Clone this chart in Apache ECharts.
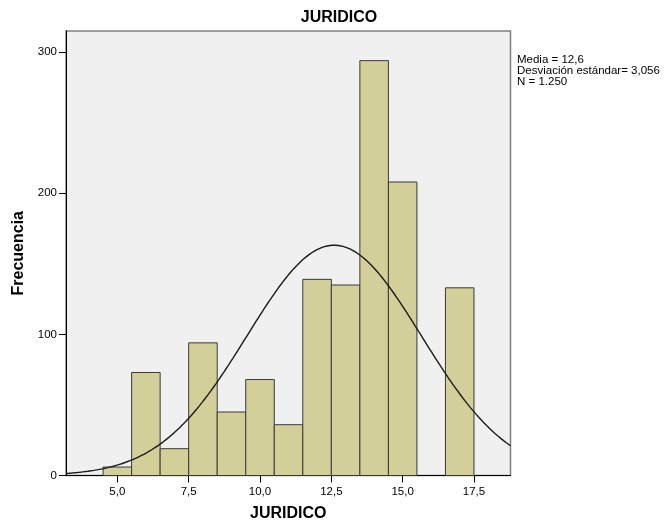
<!DOCTYPE html>
<html>
<head>
<meta charset="utf-8">
<style>html,body{margin:0;padding:0;background:#fff;}#c{width:668px;height:527px;}</style>
<script src="https://cdn.jsdelivr.net/npm/echarts@6/dist/echarts.min.js"></script>
</head>
<body>
<div id="c"></div>
<script>
// Histogram bins (centre of each 1-unit bin) and frequencies
const binCenters = [5, 6, 7, 8, 9, 10, 11, 12, 13, 14, 15, 17];
const frequencies = [6, 73, 19, 94, 45, 68, 36, 139, 135, 294, 208, 133];
const xTicks = [5, 7.5, 10, 12.5, 15, 17.5];
const yTicks = [0, 100, 200, 300];
// Stats shown on the chart (normal curve is drawn from these)
const mean = 12.6, stdDev = 3.056, total = 1250, binWidth = 1;
const statsLines = ['Media = 12,6', 'Desviación estándar= 3,056', 'N = 1.250'];

const curve = [];
for (let i = 0; i <= 320; i++) {
  const x = 3.2 + i * (18.78 - 3.2) / 320;
  const z = (x - mean) / stdDev;
  curve.push([x, total * binWidth / (stdDev * Math.sqrt(2 * Math.PI)) * Math.exp(-0.5 * z * z)]);
}
const fmt = v => v.toFixed(1).replace('.', ',');
const font = "'Liberation Sans', Arial, sans-serif";

const chart = echarts.init(document.getElementById('c'), null, {renderer: 'canvas'});
chart.setOption({
  animation: false,
  backgroundColor: '#ffffff',
  title: {
    text: 'JURIDICO', left: 334, top: 5, textAlign: 'center',
    textStyle: {fontFamily: font, fontSize: 16, fontWeight: 'bold', color: '#000'}
  },
  graphic: [{
    type: 'text', left: 517, top: 54,
    style: {text: statsLines.join('\n'), font: '11.5px ' + font, fill: '#000', lineHeight: 11}
  }],
  grid: {left: 66, right: 157.5, top: 31, bottom: 51.5, show: true,
    backgroundColor: '#F0F0F0', borderColor: '#808080', borderWidth: 1.5},
  xAxis: {
    type: 'value', min: 3.2, max: 18.78,
    name: 'JURIDICO', nameLocation: 'middle', nameGap: 30,
    nameTextStyle: {fontFamily: font, fontSize: 16, fontWeight: 'bold', color: '#000'},
    axisLine: {show: true, lineStyle: {color: '#000', width: 1}},
    axisTick: {show: true, length: 7, lineStyle: {color: '#000'}, customValues: xTicks},
    axisLabel: {customValues: xTicks, formatter: fmt, fontFamily: font, fontSize: 11.5, color: '#000', margin: 10},
    splitLine: {show: false}
  },
  yAxis: {
    type: 'value', min: 0, max: 315,
    name: 'Frecuencia', nameLocation: 'middle', nameGap: 36, nameRotate: 90,
    nameTextStyle: {fontFamily: font, fontSize: 16, fontWeight: 'bold', color: '#000'},
    axisLine: {show: true, lineStyle: {color: '#000', width: 1}},
    axisTick: {show: true, length: 7, lineStyle: {color: '#000'}, customValues: yTicks},
    axisLabel: {customValues: yTicks, fontFamily: font, fontSize: 11.5, color: '#000', margin: 9},
    splitLine: {show: false}
  },
  series: [{
    type: 'custom',
    data: binCenters.map((c, i) => [c, frequencies[i]]),
    renderItem: function (params, api) {
      const c = api.value(0), v = api.value(1);
      const p0 = api.coord([c - binWidth / 2, v]);
      const p1 = api.coord([c + binWidth / 2, 0]);
      return {
        type: 'rect',
        shape: {x: p0[0], y: p0[1], width: p1[0] - p0[0], height: p1[1] - p0[1]},
        style: {fill: '#D3CF99', stroke: '#3a3a3a', lineWidth: 1}
      };
    },
    z: 2
  }, {
    type: 'line', data: curve, showSymbol: false, smooth: false,
    lineStyle: {color: '#1a1a1a', width: 1.4}, z: 3
  }]
});
</script>
</body>
</html>
